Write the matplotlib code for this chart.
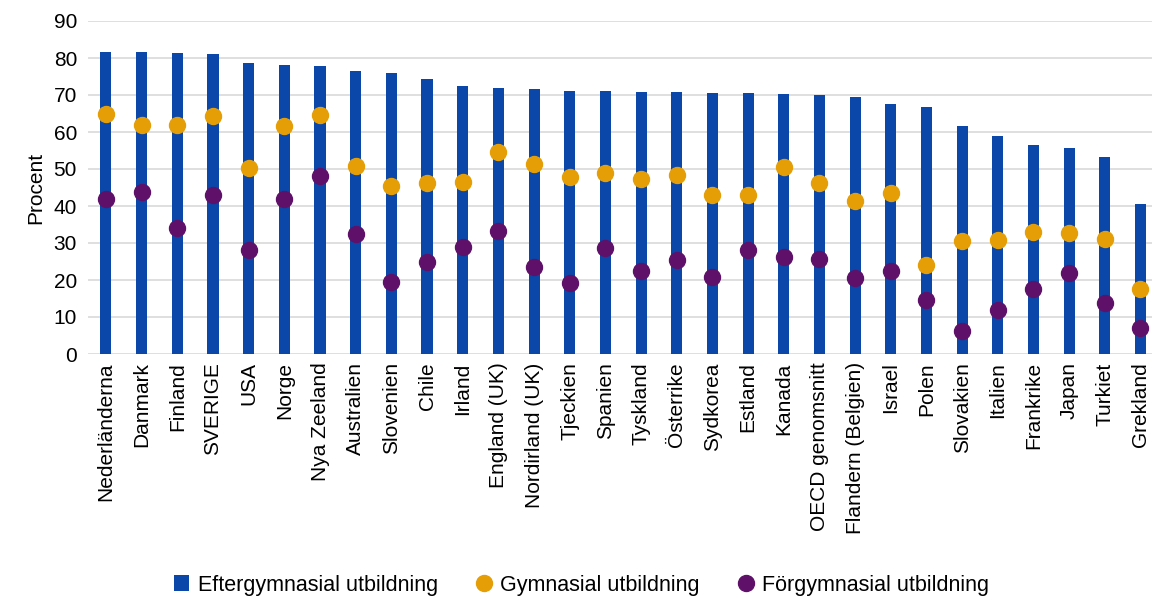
import matplotlib
matplotlib.use("Agg")
import matplotlib.pyplot as plt
import numpy as np
from matplotlib.lines import Line2D
from matplotlib.patches import Patch

countries = ["Nederländerna", "Danmark", "Finland", "SVERIGE", "USA", "Norge", "Nya Zeeland",
             "Australien", "Slovenien", "Chile", "Irland", "England (UK)", "Nordirland (UK)",
             "Tjeckien", "Spanien", "Tyskland", "Österrike", "Sydkorea", "Estland", "Kanada",
             "OECD genomsnitt", "Flandern (Belgien)", "Israel", "Polen", "Slovakien", "Italien",
             "Frankrike", "Japan", "Turkiet", "Grekland"]
efter = [81.7, 81.6, 81.4, 81.1, 78.6, 78.2, 77.9, 76.4, 76.0, 74.4, 72.5, 71.9, 71.6, 71.1,
         71.0, 70.8, 70.7, 70.6, 70.5, 70.4, 70.0, 69.4, 67.6, 66.8, 61.5, 58.8, 56.4, 55.8,
         53.2, 40.6]
gymn = [64.9, 61.8, 61.8, 64.4, 50.4, 61.7, 64.5, 50.9, 45.4, 46.3, 46.6, 54.5, 51.4, 47.9,
        48.8, 47.4, 48.4, 43.1, 42.9, 50.5, 46.1, 41.4, 43.4, 24.0, 30.6, 30.8, 32.9, 32.6,
        31.1, 17.6]
forgymn = [41.9, 43.9, 34.0, 42.9, 28.0, 41.8, 48.1, 32.4, 19.5, 24.8, 28.9, 33.2, 23.6, 19.3,
           28.6, 22.3, 25.4, 20.9, 28.2, 26.2, 25.8, 20.5, 22.3, 14.5, 6.2, 12.0, 17.6, 22.0,
           13.7, 7.1]
yticks = [0, 10, 20, 30, 40, 50, 60, 70, 80, 90]
labels = ["Eftergymnasial utbildning", "Gymnasial utbildning", "Förgymnasial utbildning"]

c_bar = "#0A47A8"
c_gym = "#E59E05"
c_for = "#5F116A"

plt.rcParams['font.family'] = ['Liberation Sans', 'DejaVu Sans']

fig = plt.figure(figsize=(11.52, 6.0), dpi=100)
ax = fig.add_axes([0.0765, 0.41, 0.929, 0.555])

x = np.arange(len(countries))
ax.bar(x, efter, width=0.31, color=c_bar, zorder=2)
ax.plot(x, gymn, 'o', color=c_gym, markersize=11.5, zorder=3, linestyle='none')
ax.plot(x, forgymn, 'o', color=c_for, markersize=11.5, zorder=3, linestyle='none')

ax.set_xlim(-0.5, len(countries) - 0.5)
ax.set_ylim(0, 90)
ax.set_yticks(yticks)
ax.set_xticks(x)
ax.set_xticklabels(countries, rotation=90, fontsize=15)
ax.tick_params(axis='y', labelsize=15, length=0, pad=8)
ax.tick_params(axis='x', length=0, pad=6)
ax.yaxis.grid(True, color="#D9D9D9", linewidth=1.2, zorder=0)
ax.set_axisbelow(True)
for s in ax.spines.values():
    s.set_visible(False)
ax.set_ylabel("Procent", fontsize=15, labelpad=6)

handles = [Patch(facecolor=c_bar, edgecolor='none'),
           Line2D([], [], marker='o', color=c_gym, linestyle='none', markersize=11.5),
           Line2D([], [], marker='o', color=c_for, linestyle='none', markersize=11.5)]
fig.legend(handles, labels, loc='center', bbox_to_anchor=(0.505, 0.025), ncol=3,
           frameon=False, fontsize=15.5, handlelength=0.7, handletextpad=0.4,
           columnspacing=1.8)

fig.savefig("out.png", dpi=100)
